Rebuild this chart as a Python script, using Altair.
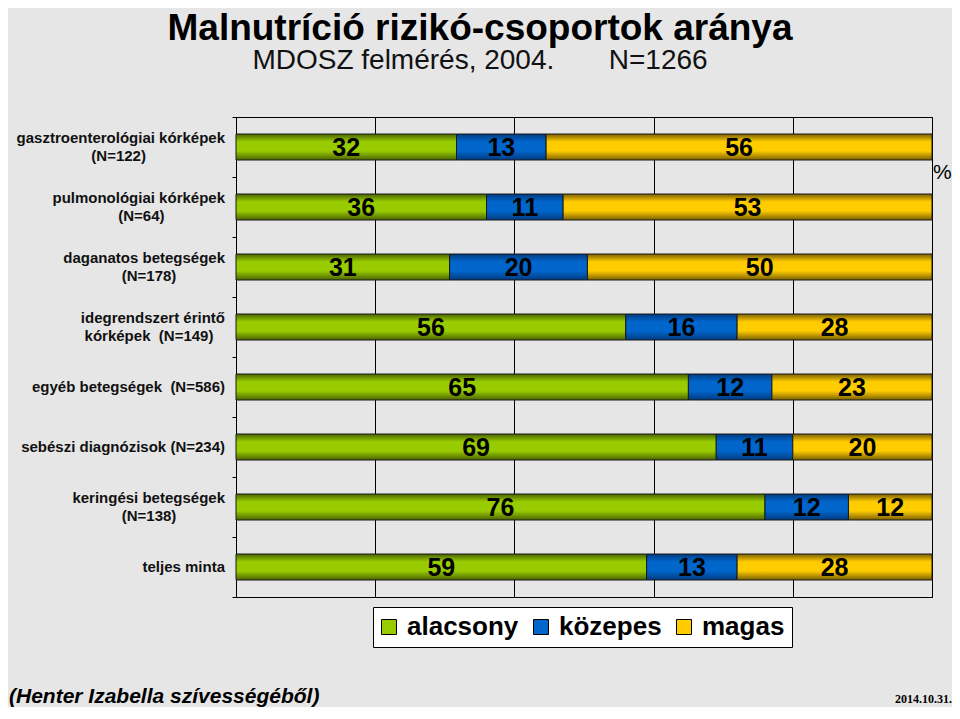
import altair as alt
import pandas as pd

categories = [
    "gasztroenterológiai kórképek|(N=122)",
    "pulmonológiai kórképek|(N=64)",
    "daganatos betegségek|(N=178)",
    "idegrendszert érintő|kórképek\u00a0 (N=149)",
    "egyéb betegségek\u00a0 (N=586)",
    "sebészi diagnózisok (N=234)",
    "keringési betegségek|(N=138)",
    "teljes minta",
]
alacsony = [32, 36, 31, 56, 65, 69, 76, 59]
kozepes = [13, 11, 20, 16, 12, 11, 12, 13]
magas = [56, 53, 50, 28, 23, 20, 12, 28]
series = ["alacsony", "közepes", "magas"]
x_ticks = [0, 20, 40, 60, 80, 100]

rows = []
for i, c in enumerate(categories):
    for j, (s, vals) in enumerate(zip(series, [alacsony, kozepes, magas])):
        rows.append({"cat": c, "series": s, "order": j, "value": vals[i]})
df = pd.DataFrame(rows)
cat_df = pd.DataFrame({"cat": categories})

FONT = "Liberation Sans"
PLOT_W = 696
PX = 100 / PLOT_W  # data units per pixel on the x scale


def grad(dark, bright):
    return alt.Gradient(
        gradient="linear",
        stops=[
            alt.GradientStop(color=dark, offset=0),
            alt.GradientStop(color=bright, offset=0.3),
            alt.GradientStop(color=bright, offset=0.65),
            alt.GradientStop(color=dark, offset=1),
        ],
        x1=0, x2=0, y1=0, y2=1,
    )


fills = {
    "alacsony": grad("#4a6300", "#99cc00"),
    "közepes": grad("#003a80", "#0066cc"),
    "magas": grad("#7a6000", "#ffcc00"),
}
solid = ["#99cc00", "#0066cc", "#ffcc00"]

base = (
    alt.Chart(df)
    .transform_joinaggregate(total="sum(value)", groupby=["cat"])
    .transform_calculate(pct="100*datum.value/datum.total")
    .transform_stack(stack="pct", groupby=["cat"], as_=["x0", "x1"],
                     sort=[alt.SortField("order", order="ascending")])
    .transform_calculate(xm="(datum.x0+datum.x1)/2")
)

y_enc = alt.Y(
    "cat:N", sort=categories, title=None,
    scale=alt.Scale(paddingInner=0, paddingOuter=0),
    axis=alt.Axis(labels=False, tickBand="extent", domainColor="black",
                  tickColor="black", tickSize=4, grid=False),
)
x_scale = alt.Scale(domain=[0, 100], nice=False)
x_axis = alt.Axis(values=x_ticks, labels=False, ticks=False, grid=True,
                  gridColor="black", gridOpacity=1, domainColor="black", title=None)

layers = []
for s in series:
    layers.append(
        base.transform_filter(alt.datum.series == s)
        .mark_bar(size=26, color=fills[s], stroke="#1a1a1a", strokeWidth=1)
        .encode(x=alt.X("x0:Q", scale=x_scale, axis=x_axis), x2="x1:Q", y=y_enc)
    )

labels = base.mark_text(font=FONT, fontSize=25, fontWeight="bold", color="black",
                        baseline="middle", dy=1).encode(
    x=alt.X("xm:Q", scale=x_scale, axis=x_axis), y=y_enc, text="value:Q")

# category labels: first line right-aligned next to the axis, second line
# centred under the first line
lab_base = (
    alt.Chart(cat_df)
    .transform_calculate(parts="split(datum.cat, '|')")
    .transform_calculate(
        n="length(datum.parts)",
        line1="datum.parts[0]",
        line2="length(datum.parts) > 1 ? datum.parts[1] : ''",
        rx=f"-11 * {PX}",
        cx=f"-(11 + length(datum.parts[0]) * 7.6 / 2) * {PX}",
    )
)
lab_style = dict(font=FONT, fontSize=15, fontWeight="bold", color="#111111",
                 baseline="middle")
single = lab_base.transform_filter("datum.n == 1").mark_text(align="right", **lab_style).encode(
    x=alt.X("rx:Q", scale=x_scale, axis=x_axis), y=y_enc, text="line1:N")
first = lab_base.transform_filter("datum.n > 1").mark_text(align="right", dy=-9, **lab_style).encode(
    x=alt.X("rx:Q", scale=x_scale, axis=x_axis), y=y_enc, text="line1:N")
second = lab_base.transform_filter("datum.n > 1").mark_text(align="center", dy=9, **lab_style).encode(
    x=alt.X("cx:Q", scale=x_scale, axis=x_axis), y=y_enc, text="line2:N")

legend_layer = alt.Chart(pd.DataFrame({"series": series})).mark_square(size=0).encode(
    x=alt.value(0), y=alt.value(0),
    color=alt.Color("series:N", sort=series,
                    scale=alt.Scale(domain=series, range=solid),
                    legend=alt.Legend(
                        orient="none", legendX=137, legendY=490, direction="horizontal",
                        title=None, symbolType="square", symbolSize=225,
                        symbolStrokeColor="black", symbolStrokeWidth=1, symbolOpacity=1,
                        symbolOffset=-4,
                        labelFont=FONT, labelFontSize=26, labelFontWeight="bold",
                        labelColor="black", labelOffset=5, columnPadding=12,
                        padding=7, fillColor="white", strokeColor="black",
                        labelLimit=400)),
)


def txt(t, x, y, **kw):
    return alt.Chart(pd.DataFrame({"t": [t]})).mark_text(**kw).encode(
        text="t:N", x=alt.value(x), y=alt.value(y))


title = txt("Malnutríció rizikó-csoportok aránya", 244, -77, font=FONT, fontSize=37,
            fontWeight="bold", color="black", align="center", baseline="alphabetic")
subtitle = txt("MDOSZ felmérés, 2004." + "\u00a0" * 7 + "N=1266", 244, -48,
               font=FONT, fontSize=28, color="#111111", align="center", baseline="alphabetic")
pct = txt("%", 697, 62, font=FONT, fontSize=21, color="black", align="left",
          baseline="alphabetic")
footer = txt("(Henter Izabella szívességéből)", -227, 586, font=FONT, fontSize=21,
             fontWeight="bold", fontStyle="italic", color="black", align="left",
             baseline="alphabetic")
date = txt("2014.10.31.", 716, 586, font="Liberation Serif", fontSize=12, fontWeight="bold",
           color="black", align="right", baseline="alphabetic")

chart = (
    alt.layer(*layers, labels, single, first, second, legend_layer,
              title, subtitle, pct, footer, date)
    .properties(width=PLOT_W, height=480,
                padding={"left": 228, "top": 109, "right": 20, "bottom": 110},
                autosize="none", background="#e6e6e6")
    .configure_view(stroke="black", strokeWidth=1, fill="#e6e6e6")
)

chart.save("out.html", embed_options={"renderer": "svg", "actions": False})
